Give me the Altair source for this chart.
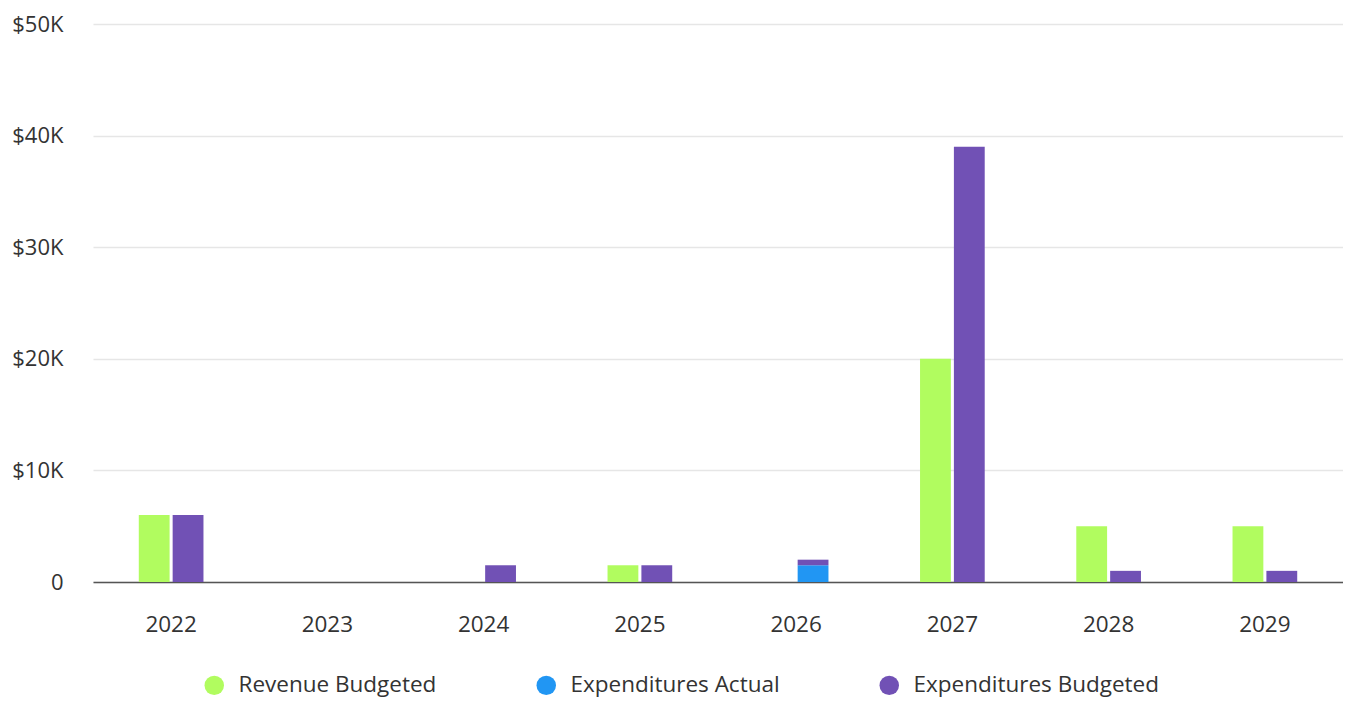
import altair as alt
import pandas as pd

years = ["2022", "2023", "2024", "2025", "2026", "2027", "2028", "2029"]
revenue_budgeted = [6000, 0, 0, 1500, 0, 20000, 5000, 5000]
expenditures_actual = [0, 0, 0, 0, 1500, 0, 0, 0]
expenditures_budgeted = [6000, 0, 1500, 1500, 500, 39000, 1000, 1000]

series_names = ["Revenue Budgeted", "Expenditures Actual", "Expenditures Budgeted"]
series_groups = ["Revenue", "Expenditures", "Expenditures"]
series_order = [0, 0, 1]
series_colors = ["#b1fc5f", "#2196f3", "#7151b5"]

rows = []
for vals, name, grp, od in zip(
    [revenue_budgeted, expenditures_actual, expenditures_budgeted],
    series_names, series_groups, series_order,
):
    for y, v in zip(years, vals):
        rows.append({"year": y, "value": v, "series": name, "group": grp, "ord": od})
df = pd.DataFrame(rows)

FONT = "Open Sans"

chart = (
    alt.Chart(df)
    .mark_bar()
    .encode(
        x=alt.X(
            "year:N",
            title=None,
            sort=years,
            scale=alt.Scale(paddingInner=0.586, paddingOuter=0.293),
            axis=alt.Axis(
                labelAngle=0,
                ticks=False,
                labelPadding=31,
                labelFontSize=22.5,
                labelColor="#333333",
                labelFont=FONT,
                domainColor="#555555",
                domainWidth=1.5,
                grid=False,
            ),
        ),
        xOffset=alt.XOffset(
            "group:N",
            sort=["Revenue", "Expenditures"],
            scale=alt.Scale(paddingInner=0.09, paddingOuter=0),
        ),
        y=alt.Y(
            "value:Q",
            title=None,
            stack="zero",
            scale=alt.Scale(domain=[0, 50000], nice=False),
            axis=alt.Axis(
                values=[0, 10000, 20000, 30000, 40000, 50000],
                labelExpr="datum.value == 0 ? '0' : '$' + (datum.value/1000) + 'K'",
                ticks=False,
                domain=False,
                labelPadding=30,
                labelFontSize=22,
                labelColor="#333333",
                labelFont=FONT,
                gridColor="#e6e6e6",
                gridWidth=1.5,
            ),
        ),
        color=alt.Color(
            "series:N",
            sort=series_names,
            scale=alt.Scale(domain=series_names, range=series_colors),
            legend=alt.Legend(
                title=None,
                orient="none",
                direction="horizontal",
                legendX=110,
                legendY=650,
                symbolType="circle",
                symbolSize=380,
                symbolStrokeWidth=0,
                labelFontSize=22.5,
                labelFont=FONT,
                labelColor="#333333",
                labelOffset=13,
                columnPadding=98,
                padding=0,
                labelLimit=400,
            ),
        ),
        order=alt.Order("ord:Q", sort="ascending"),
    )
    .properties(
        width=1250,
        height=558,
        padding={"left": 85, "top": 16, "right": 0, "bottom": 118},
        autosize=alt.AutoSizeParams(type="none"),
    )
    .configure_view(strokeOpacity=0, strokeWidth=0, stroke="transparent")
    .configure_axisY(domain=False, domainOpacity=0, domainColor="transparent")
    .configure(font=FONT, style={"cell": {"stroke": "transparent", "strokeWidth": 0}})
)

chart.save("out.html", embed_options={"renderer": "svg", "actions": False})
